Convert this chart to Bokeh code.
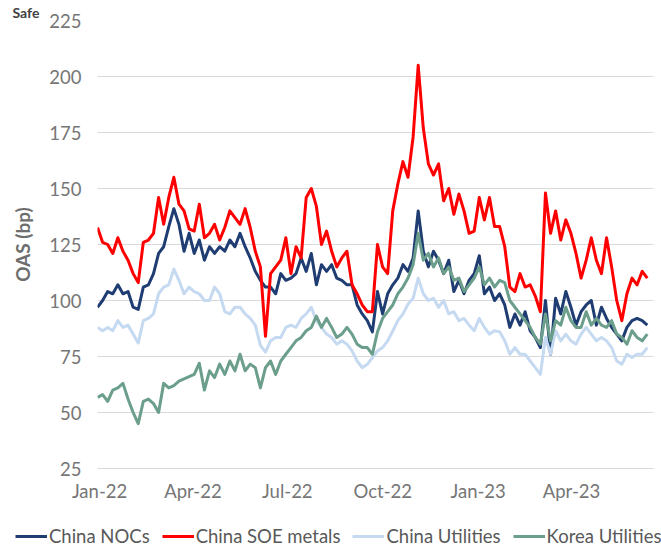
import pandas as pd
from datetime import datetime
from bokeh.plotting import figure
from bokeh.layouts import column
from bokeh.models import (Range1d, MonthsTicker, DatetimeTickFormatter, SingleIntervalTicker,
                          Legend, LegendItem)
from bokeh.embed import file_html
from bokeh.resources import INLINE

# ---- data (OAS, bp), sampled evenly from end-Dec 2021 to mid-Jun 2023 ----
dates = pd.date_range("2021-12-30", "2023-06-13", periods=109)

china_nocs = [
    97, 100, 104, 103, 107, 103, 104, 97, 96, 106, 107, 112, 121, 124, 133, 141, 134, 122, 130, 121, 127, 118,
    124, 121, 124, 122, 127, 124, 130, 124, 119, 113, 109, 106, 106, 103, 112, 109, 110, 112, 119, 113, 121,
    107, 116, 113, 116, 110, 109, 107, 107, 98, 94, 91, 86, 104, 94, 103, 107, 110, 116, 113, 119, 140,
    122, 115, 122, 118, 112, 118, 104, 109, 103, 109, 112, 120, 103, 106, 100, 103, 98, 88, 94, 89, 95, 86.5,
    83.5, 79, 100, 76, 101, 94, 104, 97, 89, 95, 98, 100, 89, 97, 92, 88, 85, 82, 88, 91, 92, 91, 89,
]
china_soe_metals = [
    132.6, 126, 125, 121, 128, 122, 118, 112, 108, 126, 127, 130, 146, 134, 146, 155, 143, 140, 132, 131, 143, 128,
    130, 134, 127, 132.6, 140, 137, 134, 141, 132.6, 122, 115, 84, 112, 115, 118, 128, 112, 124, 119, 146, 150,
    142, 125, 131, 122, 115, 119, 122, 107, 103, 98, 95, 95, 125, 115, 112, 140, 152, 162, 155, 173, 205,
    177, 161, 156, 161, 144.5, 150, 138.5, 147.5, 140, 130, 131, 146, 136, 146, 133, 133, 124, 106, 104, 112, 106, 107,
    102, 95, 148, 130, 140, 127, 136, 130, 121, 110, 118, 128, 118, 112, 128, 115, 100, 91, 103, 110, 107, 113, 110,
]
china_utilities = [
    88, 86.5, 88, 86.5, 91, 88, 89, 85, 81, 91, 92, 94, 103, 106, 107, 114, 109, 103, 106, 104, 103, 100,
    100, 106, 103, 95, 94, 97, 97, 94, 92, 89, 80, 77, 82, 83.5, 83.5, 88, 89, 88, 92, 94, 97,
    91, 88, 85, 83.5, 80.5, 82, 80.5, 77.5, 73, 70, 71.5, 74.5, 77.5, 79, 82, 86.4, 91, 94, 98.4, 101, 110,
    103, 100, 101, 97, 100, 94, 95, 91, 92, 89, 86.5, 92, 88, 85, 86.5, 86, 82, 76, 79, 76, 76, 73,
    70, 67, 83.5, 76, 86.5, 82, 85, 82, 80.5, 85, 88, 85, 82, 83.5, 82, 79, 73, 71.6, 76, 74.6, 76, 76, 79,
]
korea_utilities = [
    56.7, 58, 55, 60, 61, 63, 56, 50, 45, 55, 56, 54, 50, 63, 61, 62, 64, 65, 66, 67, 72, 60,
    68.6, 65.6, 71.6, 67, 73, 68.6, 76, 68.6, 71.6, 70, 61, 70, 73, 67, 73, 76, 79, 82, 83.5, 86.5, 88,
    93, 88, 92, 88, 83.5, 85, 88, 85, 80.5, 79, 79, 76, 86, 92, 95, 98, 103, 106, 110, 116, 130,
    118, 121, 115, 119, 112, 115, 109, 110, 104, 107, 110, 115, 107, 110, 106, 109, 108, 100, 97, 94, 91, 88,
    83.5, 80.5, 94, 82, 91, 89, 97, 91, 88, 88, 95, 89, 92, 89, 88, 91, 85, 83.5, 80.5, 86.5, 83.5, 82, 85,
]

series_names = ["China NOCs", "China SOE metals", "China Utilities", "Korea Utilities"]
series_values = [china_nocs, china_soe_metals, china_utilities, korea_utilities]
series_colors = ["#1F3D72", "#FF0000", "#C5D9F1", "#6B9E8B"]

y_start, y_end, y_step = 25, 225, 25
x_start, x_end = datetime(2021, 12, 30), datetime(2023, 6, 19)
title_text = "Safe"

FONT = "Lato"
GREY = "#767676"
W = 661

p = figure(width=W, height=508, x_axis_type="datetime",
           x_range=Range1d(x_start, x_end), y_range=Range1d(y_start, y_end),
           output_backend="svg", toolbar_location=None,
           min_border_left=97, min_border_right=8, min_border_top=20, min_border_bottom=40)
p.outline_line_color = None
p.background_fill_color = "white"
p.border_fill_color = "white"
p.frame_align = False

# small title at top-left (mostly cropped in the source image)
p.title.text = title_text
p.title.align = "left"
p.title.offset = -85
p.title.standoff = 0
p.title.text_font = FONT
p.title.text_font_size = "14px"
p.title.text_font_style = "bold"
p.title.text_color = "#404040"

for vals, col in zip(series_values, series_colors):
    p.line(dates, vals, line_color=col, line_width=3, line_join="round")

# axes
p.xgrid.grid_line_color = None
p.ygrid.grid_line_color = "#D9D9D9"
p.ygrid.grid_line_width = 1
p.yaxis.ticker = SingleIntervalTicker(interval=y_step)
p.xaxis.ticker = MonthsTicker(months=[0, 3, 6, 9])
p.xaxis.formatter = DatetimeTickFormatter(months="%b-%y", days="%b-%y", years="%b-%y")

for ax in (p.xaxis[0], p.yaxis[0]):
    ax.major_tick_line_color = None
    ax.minor_tick_line_color = None
    ax.major_tick_in = 0
    ax.major_tick_out = 0
    ax.minor_tick_out = 0
    ax.major_label_text_font = FONT
    ax.major_label_text_font_size = "18.5px"
    ax.major_label_text_color = GREY
p.yaxis.axis_line_color = None
p.xaxis.axis_line_color = "#D9D9D9"
p.yaxis.major_label_standoff = 16
p.xaxis.major_label_standoff = 11

p.yaxis.axis_label = "OAS (bp)"
p.yaxis.axis_label_text_font = FONT
p.yaxis.axis_label_text_font_size = "19px"
p.yaxis.axis_label_text_font_style = "bold"
p.yaxis.axis_label_text_color = "#6E6E6E"
p.yaxis.axis_label_standoff = 12

# legend strip underneath: same series, drawn outside its (empty) view, used only for the key
lg = figure(width=W, height=40, output_backend="svg", toolbar_location=None,
            x_range=Range1d(0, 1), y_range=Range1d(0, 1),
            x_axis_location=None, y_axis_location=None, min_border=0)
lg.outline_line_color = None
lg.grid.visible = False
lg.frame_align = False
swatches = [lg.line(dates, vals, line_color=col, line_width=3)
            for vals, col in zip(series_values, series_colors)]
items = [LegendItem(label=n, renderers=[r]) for n, r in zip(series_names, swatches)]
legend = Legend(items=items, orientation="horizontal", location=(15, 1),
                glyph_width=32, glyph_height=20, label_height=20, label_standoff=2,
                spacing=12, padding=0, margin=0,
                label_text_font=FONT, label_text_font_size="18.5px", label_text_color="#595959",
                border_line_color=None, background_fill_alpha=0)
lg.add_layout(legend)

open("out.html", "w").write(file_html(column(p, lg), INLINE))
